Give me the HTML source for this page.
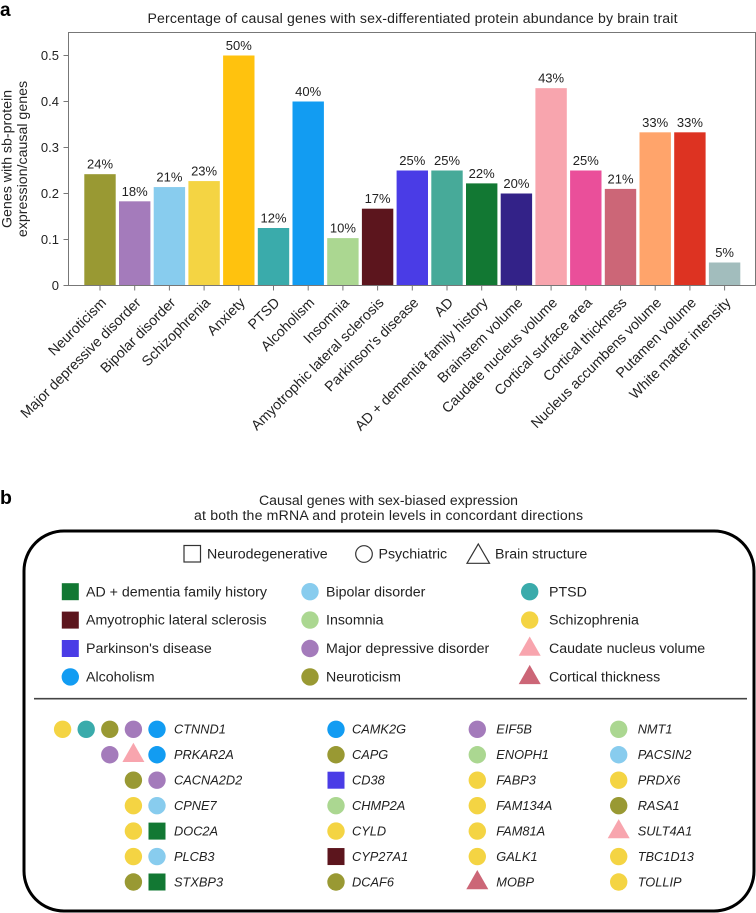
<!DOCTYPE html>
<html lang="en">
<head>
<meta charset="utf-8">
<title>Causal genes with sex-differentiated protein abundance</title>
<style>
html,body{margin:0;padding:0;background:#fff;width:756px;height:913px;overflow:hidden}
svg{display:block;font-family:"Liberation Sans",sans-serif;fill:#222}
text{fill:#222}
.lab{font-size:14.2px}
.num{font-size:13px}
.rot{font-size:14.2px}
.gene{font-size:12.8px;font-style:italic}
</style>
</head>
<body>
<svg id="fig" width="756" height="913" viewBox="0 0 756 913" xmlns="http://www.w3.org/2000/svg">
  <text x="0" y="16" style="font-size:19px;font-weight:bold;fill:#000">a</text>
  <text x="412.5" y="23" text-anchor="middle" textLength="530" style="font-size:14.1px">Percentage of causal genes with sex-differentiated protein abundance by brain trait</text>
  <g transform="translate(0,159)">
    <text transform="translate(11.5,0) rotate(-90)" text-anchor="middle" class="lab">Genes with sb-protein</text>
    <text transform="translate(27,0) rotate(-90)" text-anchor="middle" class="lab">expression/causal genes</text>
  </g>
  <g id="chart"></g>

  <text x="0" y="504" style="font-size:19.5px;font-weight:bold;fill:#000">b</text>
  <text x="388.5" y="505" text-anchor="middle" textLength="259" style="font-size:14.1px">Causal genes with sex-biased expression</text>
  <text x="388.5" y="520" text-anchor="middle" textLength="389" style="font-size:14.1px">at both the mRNA and protein levels in concordant directions</text>
  <rect x="24" y="531" width="730" height="380" rx="40" ry="40" fill="none" stroke="#000" stroke-width="3" style="fill:none"></rect>

  <rect x="184" y="545.5" width="16.5" height="16.5" style="fill:none;stroke:#333;stroke-width:1.2"></rect>
  <text x="207" y="558.5" class="lab">Neurodegenerative</text>
  <circle cx="364" cy="554" r="8.3" style="fill:none;stroke:#333;stroke-width:1.2"></circle>
  <text x="378.5" y="558.5" class="lab">Psychiatric</text>
  <polygon points="478.3,544 489.5,563.3 467,563.3" style="fill:none;stroke:#333;stroke-width:1.2"></polygon>
  <text x="495" y="558.5" class="lab">Brain structure</text>

  <g id="legend"></g>
  <line x1="34" y1="698.7" x2="747" y2="698.7" stroke="#444" stroke-width="1.6"></line>
  <g id="genes"></g>
</svg>
<script>
var NS = 'http://www.w3.org/2000/svg';

// Chart data
var traits = ['Neuroticism','Major depressive disorder','Bipolar disorder','Schizophrenia','Anxiety','PTSD','Alcoholism','Insomnia','Amyotrophic lateral sclerosis',"Parkinson's disease",'AD','AD + dementia family history','Brainstem volume','Caudate nucleus volume','Cortical surface area','Cortical thickness','Nucleus accumbens volume','Putamen volume','White matter intensity'];
var fractions = [0.242,0.183,0.214,0.227,0.5,0.125,0.4,0.103,0.167,0.25,0.25,0.222,0.2,0.429,0.25,0.21,0.333,0.333,0.05];
var percentLabels = ['24%','18%','21%','23%','50%','12%','40%','10%','17%','25%','25%','22%','20%','43%','25%','21%','33%','33%','5%'];
var barColors = ['#999933','#a47bbb','#88ccee','#f4d443','#ffc20e','#3aabab','#129cf2','#abd791','#5c151d','#4a3ce6','#47aa99','#127833','#332288','#f8a5ae','#ea4f9a','#cc6677','#ffa46b','#dd3322','#a2bdbd'];
var yTicks = [0,0.1,0.2,0.3,0.4,0.5];

// Legend and gene-list data
var legendTraits = ['AD + dementia family history','Amyotrophic lateral sclerosis',"Parkinson's disease",'Alcoholism','Bipolar disorder','Insomnia','Major depressive disorder','Neuroticism','PTSD','Schizophrenia','Caudate nucleus volume','Cortical thickness'];
var geneNames = ['CTNND1','PRKAR2A','CACNA2D2','CPNE7','DOC2A','PLCB3','STXBP3','CAMK2G','CAPG','CD38','CHMP2A','CYLD','CYP27A1','DCAF6','EIF5B','ENOPH1','FABP3','FAM134A','FAM81A','GALK1','MOBP','NMT1','PACSIN2','PRDX6','RASA1','SULT4A1','TBC1D13','TOLLIP'];
var geneTraits = [
  ['Schizophrenia','PTSD','Neuroticism','Major depressive disorder','Alcoholism'],
  ['Major depressive disorder','Caudate nucleus volume','Alcoholism'],
  ['Neuroticism','Major depressive disorder'],
  ['Schizophrenia','Bipolar disorder'],
  ['Schizophrenia','AD + dementia family history'],
  ['Schizophrenia','Bipolar disorder'],
  ['Neuroticism','AD + dementia family history'],
  ['Alcoholism'],['Neuroticism'],["Parkinson's disease"],['Insomnia'],['Schizophrenia'],['Amyotrophic lateral sclerosis'],['Neuroticism'],
  ['Major depressive disorder'],['Insomnia'],['Schizophrenia'],['Schizophrenia'],['Schizophrenia'],['Schizophrenia'],['Cortical thickness'],
  ['Insomnia'],['Bipolar disorder'],['Schizophrenia'],['Neuroticism'],['Caudate nucleus volume'],['Schizophrenia'],['Schizophrenia']
];
var neurodegenerativeTraits = ['AD + dementia family history','Amyotrophic lateral sclerosis',"Parkinson's disease"];
var structureTraits = ['Caudate nucleus volume','Cortical thickness'];

function xScale(i){ return 100 + i * 34.7; }
function yScale(v){ return 285.5 - v * 460; }
function colorOf(t){ return barColors[traits.indexOf(t)]; }
function make(tag, parent, attrs){
  var el = document.createElementNS(NS, tag);
  for (var k in attrs) el.setAttribute(k, attrs[k]);
  parent.appendChild(el);
  return el;
}
function slug(s){ return s.toLowerCase().replace(/[^a-z0-9]+/g,'-').replace(/^-|-$/g,''); }

var chart = document.getElementById('chart');

var frame = make('path', chart, {d:'M68.5 285.5V32.5H755.5V285.5', fill:'none', stroke:'#777', 'stroke-width':'1'});


frame.style.fill = 'none';

yTicks.forEach(function(t){
  var tick = make('line', chart, {x1:63.5, x2:68.5, y1:yScale(t), y2:yScale(t), stroke:'#777', 'stroke-width':'1'});
  
  
  var lab = make('text', chart, {x:59, y:yScale(t)+4.5, 'text-anchor':'end', 'class':'num'});
  lab.textContent = String(t);
  
  
});

fractions.forEach(function(v, i){
  var cx = xScale(i);
  var bar = make('rect', chart, {x:cx-15.7, y:yScale(v), width:31.4, height:285.5-yScale(v)});
  bar.style.fill = barColors[i];
  
  

  var val = make('text', chart, {x:cx, y:yScale(v)-5.5, 'text-anchor':'middle', 'class':'num'});
  val.textContent = percentLabels[i];
  
  

  var tick = make('line', chart, {x1:cx, x2:cx, y1:285.5, y2:290.5, stroke:'#777', 'stroke-width':'1'});
  
  

  var lab = make('text', chart, {transform:'translate('+(cx+7)+',303.5) rotate(-45)', 'text-anchor':'end', 'class':'rot'});
  lab.textContent = traits[i];
  
  
});

var baseline = make('line', chart, {x1:63.5, x2:755.5, y1:285.5, y2:285.5, stroke:'#777', 'stroke-width':'1'});



function marker(parent, trait, cx, cy){
  var c = colorOf(trait), el;
  if (neurodegenerativeTraits.indexOf(trait) >= 0) {
    el = make('rect', parent, {x:cx-8.5, y:cy-8.5, width:17, height:17});
  } else if (structureTraits.indexOf(trait) >= 0) {
    el = make('polygon', parent, {points:cx+','+(cy-12)+' '+(cx+11)+','+(cy+7.2)+' '+(cx-11)+','+(cy+7.2)});
  } else {
    el = make('circle', parent, {cx:cx, cy:cy, r:8.7});
  }
  el.style.fill = c;
  return el;
}

var legend = document.getElementById('legend');
var legendColumns = [[70.3,86],[310,326],[529.7,549]];
legendTraits.forEach(function(t, i){
  var col = Math.floor(i / 4), row = i % 4;
  var y = 591.7 + row * 28.4;
  var m = marker(legend, t, legendColumns[col][0], y);
  
  
  var lab = make('text', legend, {x:legendColumns[col][1], y:y+4.6, 'class':'lab'});
  lab.textContent = t;
  
  
});

var genes = document.getElementById('genes');
var geneColumns = [[157,174],[336,352],[477.3,496.3],[618.7,637.7]];
geneNames.forEach(function(g, i){
  var col = Math.floor(i / 7), row = i % 7;
  var y = 729.3 + row * 25.45;
  var list = geneTraits[i];
  list.forEach(function(t, j){
    var mx = geneColumns[col][0] - (list.length - 1 - j) * 23.6;
    var m = marker(genes, t, mx, y);
    
    
  });
  var lab = make('text', genes, {x:geneColumns[col][1], y:y+4.4, 'class':'gene'});
  lab.textContent = g;
  
  
});
</script>
</body>
</html>
